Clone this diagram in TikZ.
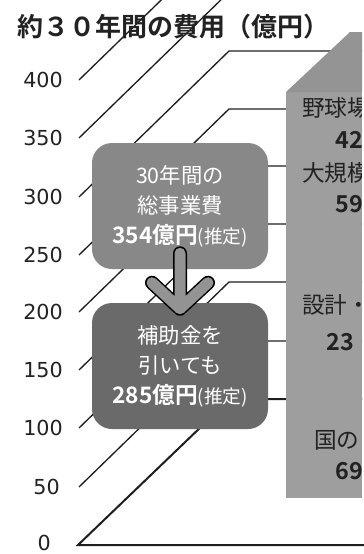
\documentclass[tikz,border=0pt]{standalone}
\usepackage{fontspec}
\setmainfont{Noto Sans CJK JP}[BoldFont={Noto Sans CJK JP Bold}]
\newfontfamily\tickfont{DejaVu Sans}
\definecolor{cBar}{HTML}{9E9E9E}
\definecolor{cBarTop}{HTML}{949494}
\definecolor{cBoxA}{HTML}{888888}
\definecolor{cBoxB}{HTML}{6A6A6A}
\definecolor{cArrow}{HTML}{939393}
\definecolor{cLine}{HTML}{1E1E1E}
\definecolor{cText}{HTML}{222222}
\tikzset{
	grid line/.style={draw=cLine, line width=1pt},
	floor line/.style={draw=cLine, line width=1.5pt, line join=miter},
	sum box/.style={rounded corners=15pt, minimum width=132pt, minimum height=94.5pt, inner sep=0pt, text=white, align=center, font=\fontsize{16}{22.5}\selectfont},
	bar text/.style={anchor=west, text=cText, inner sep=0pt, font=\fontsize{17}{18}\selectfont},
	bar num/.style={anchor=west, text=cText, inner sep=0pt, font=\fontsize{17.5}{18}\selectfont\bfseries},
	axis label/.style={anchor=east, inner sep=0pt, text=cText, font=\tickfont\fontsize{15.5}{18}\selectfont},
	arrow body/.style={line cap=round, line join=round},
}

\begin{document}
\begin{tikzpicture}[x=0.75pt, y=-0.75pt]
		\useasboundingbox (0,0) rectangle (364,554);
		\clip (0,0) rectangle (364,554);
		
		%left wall and back wall
		\foreach \y in {487,428,370,312,255,197,138,80}
		{
			\draw [grid line] (79,\y) -- ++(150,-146) -- (362,\y-146);
		}
		%floor
		\draw [floor line] (364,545) -- (78,545) -- ++(152,-146) -- (362,399);
		\foreach \v/\y/\lx in {0/543/51,50/487/60,100/428/63,150/370/63,200/312/63,250/255/63,300/197/63,350/138/63,400/80/63}
		{
			\node [axis label] (tick\v) at (\lx,\y) {\v};
		}
		
		%bar front and top
		\fill [cBar] (286,92) rectangle (362,498);
		\fill [cBarTop] (286,92) -- (350,32) -- (362,32) -- (362,92) -- cycle;
		\begin{scope}
			\clip (286,0) rectangle (361,554);
			\node [bar text] (ballpark) at (302,108) {野球場};
			\node [bar num] (ballparkCost) at (335,140) {42};
			\node [bar text] (repair) at (302,173) {大規模};
			\node [bar num] (repairCost) at (335,204) {59};
			\node [bar text] (design) at (302,305) {設計・};
			\node [bar num] (designCost) at (326,342) {23};
			\node [bar text] (state) at (314,440) {国の};
			\node [bar num] (stateCost) at (335,471) {69};
		\end{scope}
		
		%boxes
		\node [sum box, fill=cBoxA] (total) at (180,206) {30年間の\\総事業費\\{\fontsize{17}{22.5}\selectfont\bfseries 354億円}{\fontsize{14}{22.5}\selectfont(推定)}};
		\node [sum box, fill=cBoxB] (subsidy) at (180,366) {補助金を\\引いても\\{\fontsize{17}{22.5}\selectfont\bfseries 285億円}{\fontsize{14}{22.5}\selectfont(推定)}};
		
		%arrow between boxes
		\coordinate (stemTop) at ([yshift=12pt]total.south);
		\coordinate (arrowTip) at ([yshift=-4.5pt]subsidy.north);
		\draw [arrow body, black, line width=10.5pt] (stemTop) -- (arrowTip) ([shift={(-28,-26)}]arrowTip) -- (arrowTip) -- ([shift={(28,-26)}]arrowTip);
		\draw [arrow body, cArrow, line width=8.25pt] (stemTop) -- (arrowTip) ([shift={(-28,-26)}]arrowTip) -- (arrowTip) -- ([shift={(28,-26)}]arrowTip);
		
		\node [anchor=west, inner sep=0pt, text=cText, font=\fontsize{19.5}{20}\selectfont\bfseries] (title) at (17,27) {約３０年間の費用（億円）};
		
\end{tikzpicture}
\end{document}
